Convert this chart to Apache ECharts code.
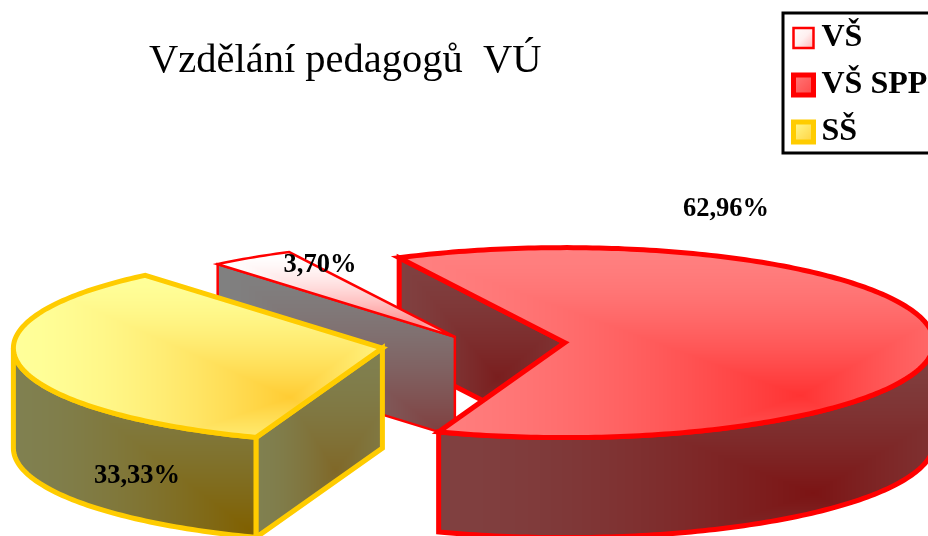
<!DOCTYPE html>
<html>
<head>
<meta charset="utf-8">
<style>html,body{margin:0;padding:0;background:#fff}#chart{width:928px;height:536px}</style>
<script src="https://cdn.jsdelivr.net/npm/echarts@6/dist/echarts.min.js"></script>
</head>
<body>
<div id="chart"></div>
<script>
const categories = ['VŠ', 'VŠ SPP', 'SŠ'];
const shares = [3.70, 62.96, 33.33];
const titleText = 'Vzdělání pedagogů  VÚ';

// pie geometry, Excel style "3-D exploded"
const cx = 473, cy = 344, rx = 369, ry = 95, depth = 100;
const startAngle = 230;
const explode = [33, 92, 92];
const labelPos = [[320, 265], [726, 209], [137, 476]];
const lineColor = ['#ff0000', '#ff0000', '#ffcc00'];
const lineWidth = [2.5, 5, 5];
const RAD = Math.PI / 180;

// Rectangular "from corner" gradient, painted to a page sized canvas and used as pattern
function rectFill(x0, y0, x1, y1, fx, fy, c1, c2) {
  const canvas = document.createElement('canvas');
  canvas.width = 928; canvas.height = 536;
  const ctx = canvas.getContext('2d');
  const img = ctx.createImageData(928, 536);
  for (let y = 0; y < 536; y++) {
    for (let x = 0; x < 928; x++) {
      const tx = x < fx ? (x - x0) / (fx - x0) : (x1 - x) / (x1 - fx);
      const ty = y < fy ? (y - y0) / (fy - y0) : (y1 - y) / (y1 - fy);
      const t = Math.pow(Math.max(0, Math.min(1, tx, ty)), 1.6);
      const i = (y * 928 + x) * 4;
      img.data[i] = c1[0] + (c2[0] - c1[0]) * t;
      img.data[i + 1] = c1[1] + (c2[1] - c1[1]) * t;
      img.data[i + 2] = c1[2] + (c2[2] - c1[2]) * t;
      img.data[i + 3] = 255;
    }
  }
  ctx.putImageData(img, 0, 0);
  return { image: canvas, repeat: 'no-repeat' };
}

const fills = {
  grayTop: rectFill(219, 252, 500, 360, 410, 330, [255, 255, 255], [255, 128, 128]),
  grayFace: rectFill(219, 264, 600, 520, 440, 430, [128, 128, 128], [128, 64, 64]),
  redTop: rectFill(397, 247, 1060, 540, 800, 395, [255, 128, 128], [255, 51, 51]),
  redWall: rectFill(437, 342, 1060, 620, 813, 493, [128, 64, 64], [124, 20, 20]),
  redFace: rectFill(397, 257, 640, 480, 497, 377, [128, 64, 64], [122, 30, 30]),
  yellowTop: rectFill(14, 274, 450, 490, 290, 397, [255, 255, 153], [255, 204, 51]),
  yellowWall: rectFill(14, 350, 300, 600, 250, 530, [128, 128, 80], [128, 96, 0]),
  yellowFace: rectFill(255, 347, 430, 560, 335, 470, [128, 128, 80], [128, 104, 40])
};
// fills per slice and their stacking order
const topFill = [fills.grayTop, fills.redTop, fills.yellowTop];
const wallFill = [null, fills.redWall, fills.yellowWall];
const faceFill = [fills.grayFace, fills.redFace, fills.yellowFace];
const wallZ = [0, 4, 6];
const faceZ = [2, 1, 7];
const topZ = [3, 5, 8];

const total = shares.reduce((a, b) => a + b, 0);

function renderSlice(i, api) {
  let a0 = startAngle;
  for (let k = 0; k < i; k++) a0 += shares[k] / total * 360;
  const a1 = a0 + api.value(0) / total * 360;
  const mid = (a0 + a1) / 2 * RAD;
  const ox = cx + explode[i] * Math.cos(mid);
  const oy = cy + explode[i] * Math.sin(mid) * ry / rx;
  const pt = a => [ox + rx * Math.cos(a * RAD), oy + ry * Math.sin(a * RAD)];
  const style = f => ({
    fill: f, stroke: lineColor[i], lineWidth: lineWidth[i],
    lineJoin: 'miter', miterLimit: 6
  });
  const children = [];

  // top face
  const topPts = [[ox, oy]];
  for (let a = a0; a < a1; a += 1) topPts.push(pt(a));
  topPts.push(pt(a1));
  children.push({ type: 'polygon', z2: topZ[i], shape: { points: topPts }, style: style(topFill[i]) });

  // cut face seen from the front, hangs under the slice's first edge
  const cut = pt(a0);
  children.push({
    type: 'polygon', z2: faceZ[i],
    shape: { points: [cut, [ox, oy], [ox, oy + depth], [cut[0], cut[1] + depth]] },
    style: style(faceFill[i])
  });

  // outer wall, only the front half of the ring shows
  const ranges = [[a0, a1], [a0 - 360, a1 - 360]];
  ranges.forEach(r => {
    const from = Math.max(r[0], 0), to = Math.min(r[1], 180);
    if (to <= from || !wallFill[i]) return;
    const up = [], down = [];
    for (let a = from; a < to; a += 1) up.push(pt(a));
    up.push(pt(to));
    up.forEach(p => down.unshift([p[0], p[1] + depth]));
    children.push({
      type: 'polygon', z2: wallZ[i],
      shape: { points: up.concat(down) }, style: style(wallFill[i])
    });
  });

  children.push({
    type: 'text', z2: 20,
    style: {
      x: labelPos[i][0], y: labelPos[i][1],
      text: api.value(0).toFixed(2).replace('.', ',') + '%',
      font: 'bold 26.5px "Liberation Serif"', fill: '#000',
      align: 'center', verticalAlign: 'middle'
    }
  });
  return { type: 'group', children: children };
}

const legendIcon = [
  { color: { type: 'linear', x: 0, y: 0, x2: 1, y2: 1, colorStops: [{ offset: 0, color: '#ffffff' }, { offset: 0.5, color: '#fff0f0' }, { offset: 1, color: '#ffb0b0' }] }, borderColor: '#ff0000', borderWidth: 2.5 },
  { color: { type: 'linear', x: 0, y: 0, x2: 1, y2: 1, colorStops: [{ offset: 0, color: '#ff8080' }, { offset: 1, color: '#ff4040' }] }, borderColor: '#ff0000', borderWidth: 5 },
  { color: { type: 'linear', x: 0, y: 0, x2: 1, y2: 1, colorStops: [{ offset: 0, color: '#ffff99' }, { offset: 1, color: '#ffcc33' }] }, borderColor: '#ffcc00', borderWidth: 5 }
];

const myChart = echarts.init(document.getElementById('chart'));
const option = {
  animation: false,
  title: {
    text: titleText, left: 149, top: 41,
    padding: 0,
    textStyle: { fontFamily: 'Liberation Serif', fontSize: 40.5, fontWeight: 'normal', color: '#000' }
  },
  legend: {
    left: 783, top: 13, orient: 'vertical', padding: [9, 12, 5, 8],
    itemWidth: 26, itemHeight: 20, itemGap: 15,
    borderColor: '#000', borderWidth: 3,
    icon: 'path://M0 0H10V10H0Z', symbolKeepAspect: true,
    textStyle: { fontFamily: 'Liberation Serif', fontSize: 32, fontWeight: 'bold', color: '#000' },
    data: categories.map((name, i) => ({ name: name, itemStyle: legendIcon[i] }))
  },
  series: categories.map((name, i) => ({
    type: 'custom', name: name, coordinateSystem: 'none', silent: true,
    clip: false, data: [shares[i]],
    renderItem: (params, api) => renderSlice(i, api)
  }))
};
myChart.setOption(option);
</script>
</body>
</html>
